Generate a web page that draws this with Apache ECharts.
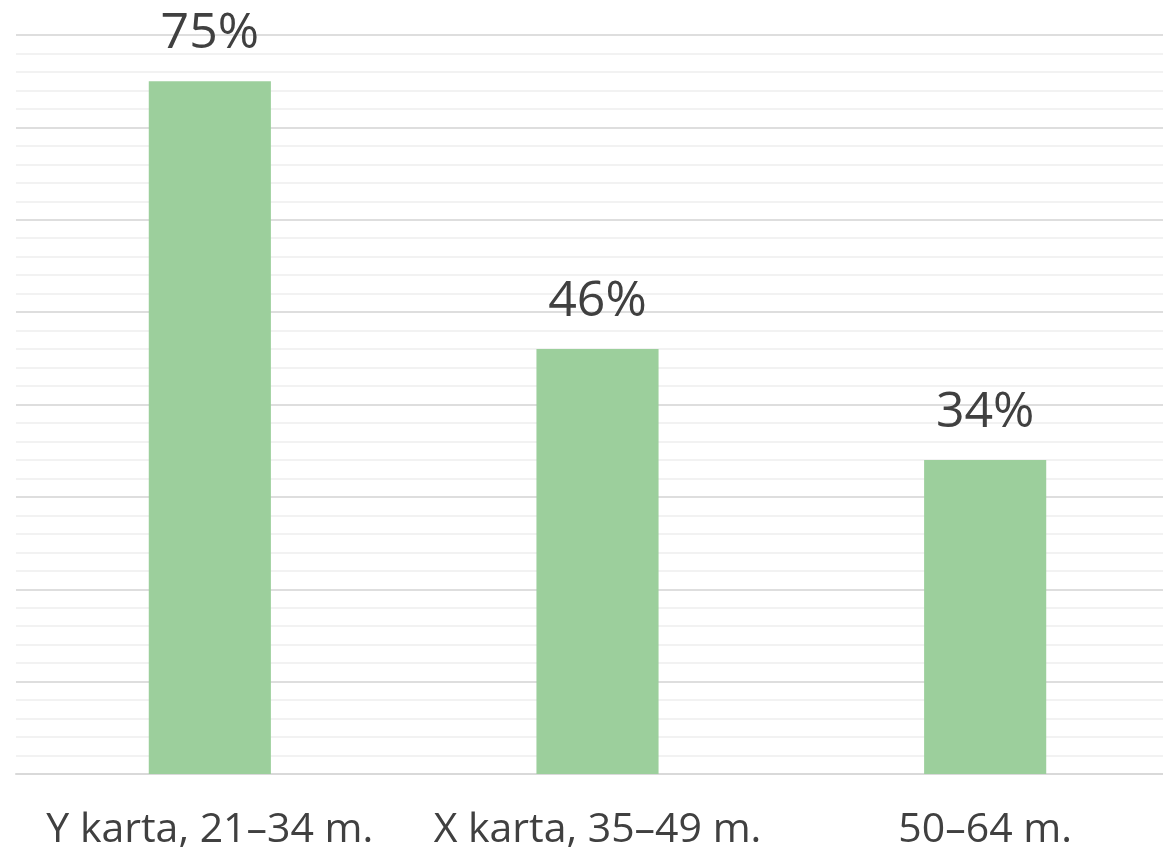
<!DOCTYPE html>
<html>
<head>
<meta charset="utf-8">
<script src="https://cdn.jsdelivr.net/npm/echarts@6/dist/echarts.min.js"></script>
<style>
html,body{margin:0;padding:0;background:#fff;}
#c{width:1163px;height:849px;}
</style>
</head>
<body>
<div id="c"></div>
<script>
const categories = ["Y karta, 21–34 m.", "X karta, 35–49 m.", "50–64 m."];
const values = [75, 46, 34];
const yMin = 0, yMax = 80, yInterval = 10;

const chart = echarts.init(document.getElementById('c'), null, {renderer: 'canvas'});
chart.setOption({
  animation: false,
  backgroundColor: '#ffffff',
  grid: {left: 16, right: -16, top: 35, bottom: 75, containLabel: false, outerBoundsMode: 'none'},
  xAxis: {
    type: 'category',
    data: categories,
    axisLine: {show: true, lineStyle: {color: '#d9d9d9', width: 2}},
    axisTick: {show: false},
    axisLabel: {color: '#404040', fontSize: 41, fontWeight: 500, fontFamily: 'Open Sans', margin: 36, interval: 0, hideOverlap: false}
  },
  yAxis: {
    type: 'value',
    min: yMin, max: yMax, interval: yInterval,
    axisLabel: {show: false},
    axisLine: {show: false},
    axisTick: {show: false},
    splitLine: {show: true, lineStyle: {color: '#dedede', width: 2}},
    minorTick: {show: false, splitNumber: 5},
    minorSplitLine: {show: true, lineStyle: {color: '#f2f2f2', width: 2}}
  },
  series: [{
    type: 'bar',
    data: values,
    barWidth: '31.5%',
    itemStyle: {color: '#9ccf9c'},
    label: {
      show: true, position: 'top', distance: 22,
      formatter: '{c}%', color: '#404040', fontSize: 50, fontWeight: 500, fontFamily: 'Open Sans'
    }
  }]
});
</script>
</body>
</html>
